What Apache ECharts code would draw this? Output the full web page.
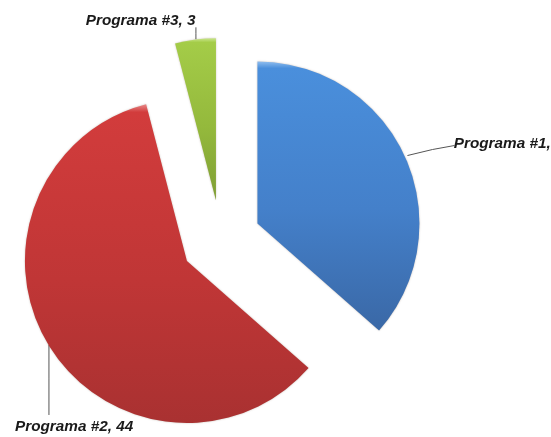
<!DOCTYPE html>
<html><head><meta charset="utf-8">
<style>html,body{margin:0;padding:0;background:#fff;overflow:hidden}#c{width:551px;height:437px}</style>
<script src="https://cdn.jsdelivr.net/npm/echarts@6/dist/echarts.min.js"></script>
</head><body><div id="c"></div>
<script>
var categories = ['Programa #1', 'Programa #2', 'Programa #3'];
var values = [27, 44, 3];
var topColors = ['#4a8fdc', '#d23c3c', '#a4cc48'];
var midColors = ['#4480ca', '#c03636', '#94b93c'];
var endColors = ['#3a68a6', '#a93131', '#7f9e34'];
var rimColors = ['#8fbdee', '#e98a8a', '#c9e68c'];
var labelSpots = [
  {dx: 0, dy: -7, line: [[371, 172], [396, 166], [418, 162]]},
  {dx: 132, dy: 73, line: [[83, 324], [83, 358], [83, 394]]},
  {dx: 37, dy: -4, line: [[201, 79], [201, 73], [201, 67]]}
];
function fill(i) {
  return new echarts.graphic.LinearGradient(0, 0, 0, 1, [
    {offset: 0, color: rimColors[i]},
    {offset: 0.025, color: topColors[i]},
    {offset: 0.55, color: midColors[i]},
    {offset: 1, color: endColors[i]}
  ]);
}
var chart = echarts.init(document.getElementById('c'), null, {renderer: 'canvas'});
chart.setOption({
  animation: false,
  series: [{
    type: 'pie',
    center: [221, 240],
    radius: [0, 162],
    startAngle: 90,
    clockwise: true,
    selectedMode: 'multiple',
    selectedOffset: 40,
    avoidLabelOverlap: false,
    data: categories.map(function (name, i) {
      return {
        name: name, value: values[i], selected: true,
        itemStyle: {color: fill(i), shadowBlur: 2, shadowColor: 'rgba(90,60,40,0.35)'}
      };
    }),
    label: {
      show: true,
      formatter: '{b}, {c}',
      fontFamily: 'Liberation Sans',
      fontStyle: 'italic',
      fontWeight: 'bold',
      fontSize: 15.3,
      color: '#1a1a1a',
      overflow: 'none',
      bleedMargin: 0
    },
    labelLine: {show: true, lineStyle: {color: '#555', width: 1}},
    labelLayout: function (p) {
      var s = labelSpots[p.dataIndex];
      return {dx: s.dx, dy: s.dy, labelLinePoints: s.line};
    }
  }]
});
</script></body></html>
